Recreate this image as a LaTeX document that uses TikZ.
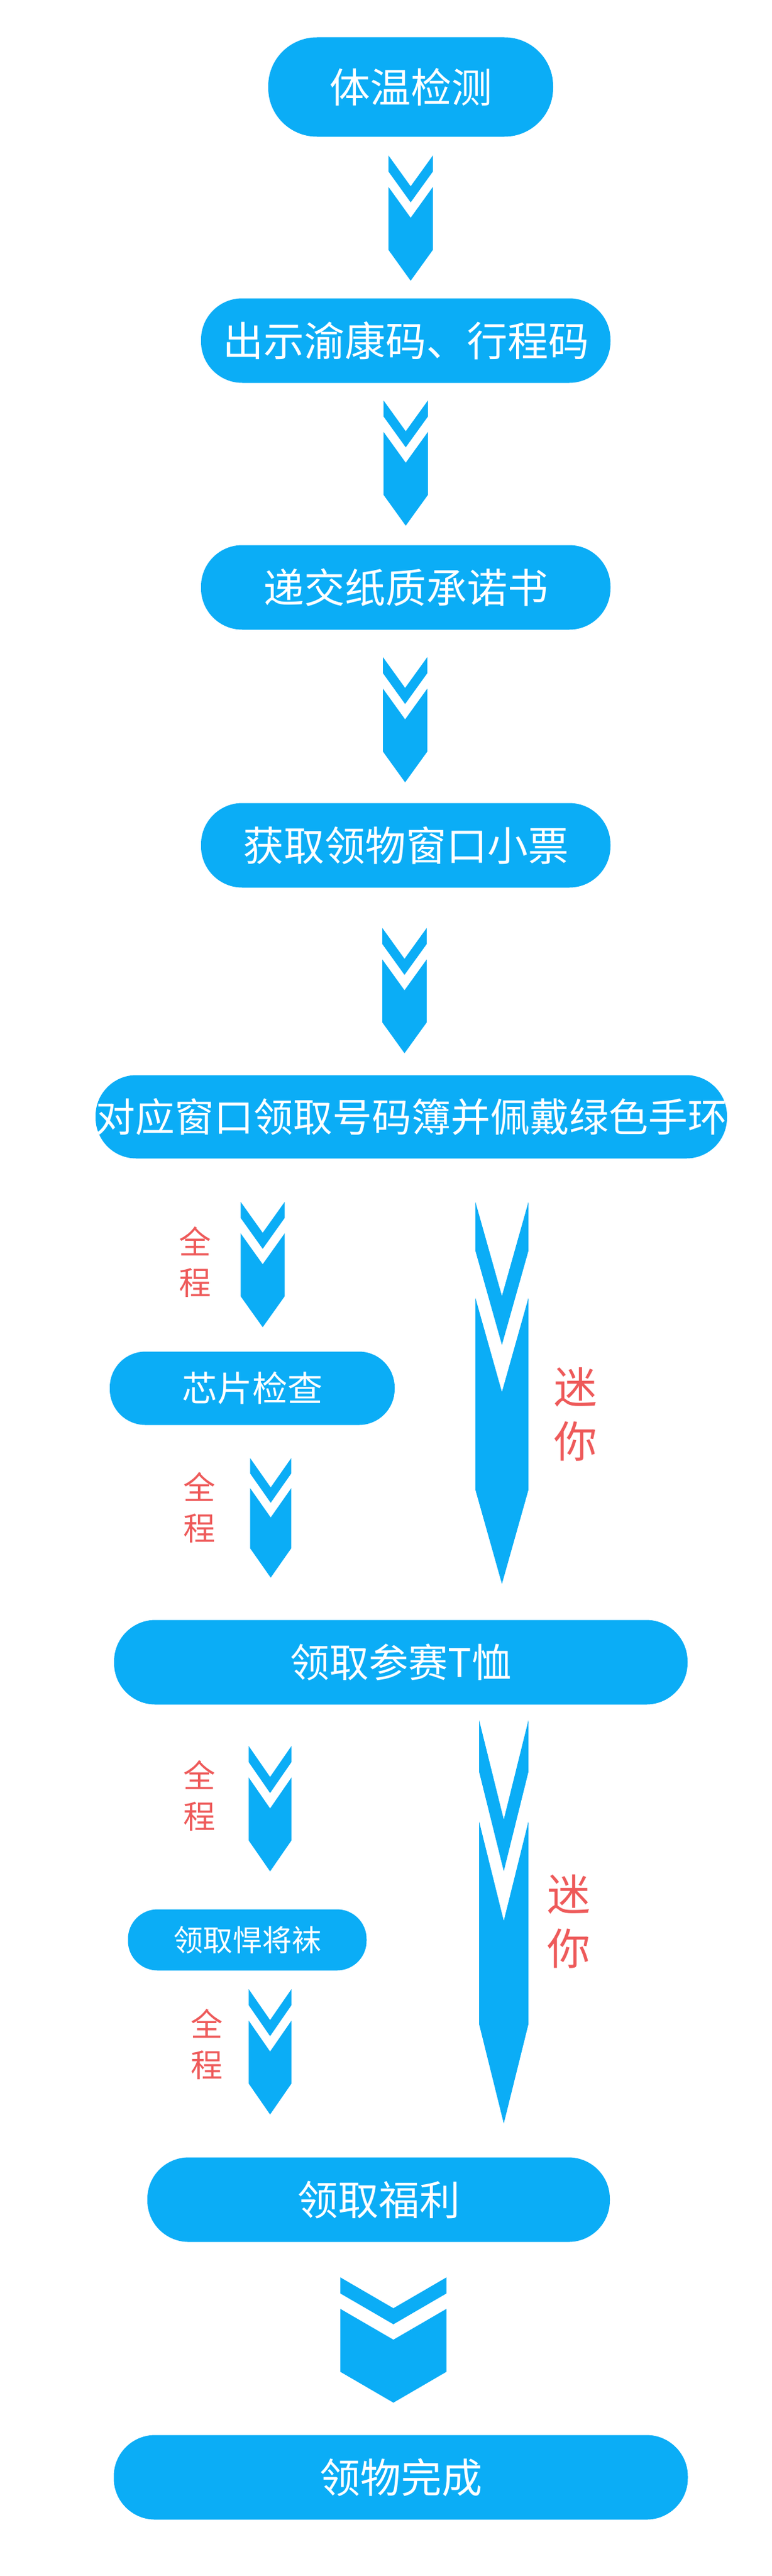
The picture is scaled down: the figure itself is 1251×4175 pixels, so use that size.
\documentclass[tikz,border=0pt]{standalone}
\usepackage{fontspec}
\setmainfont{Noto Sans CJK SC}
\definecolor{skyb}{HTML}{0BADF6}
\definecolor{lblred}{HTML}{EE5A5A}
\newcommand{\fsz}[2]{\fontsize{#1}{#2}\selectfont}
\tikzset{
  pill/.style n args={3}{fill=skyb, text=white, inner sep=0pt,
    minimum width=#1pt, minimum height=#2pt, rounded corners=#3pt},
  lblsmall/.style={text=lblred, align=center, inner sep=0pt, font=\fsz{52}{66}},
  lblbig/.style={text=lblred, align=center, inner sep=0pt, font=\fsz{70}{88}},
  chev/.pic={
    \fill[skyb] (-36,0) -- (0,50) -- (36,0) -- (36,26) -- (0,76) -- (-36,26) -- cycle;
    \fill[skyb] (-36,51) -- (0,101) -- (36,51) -- (36,153) -- (0,203) -- (-36,153) -- cycle;
  }
}
\begin{document}
\begin{tikzpicture}[x=1pt,y=-1pt]
\fill[white] (0,0) rectangle (1251,4175);
\useasboundingbox (0,0) rectangle (1251,4175);

% main pills
\node[pill={462}{161}{79}, font=\fsz{66}{70}] (p1) at (666,141) {体温检测};
\node[pill={664}{137}{67}, font=\fsz{66}{70}] (p2) at (658,552) {出示渝康码、行程码};
\node[pill={664}{137}{67}, font=\fsz{66}{70}] (p3) at (658,952) {递交纸质承诺书};
\node[pill={664}{137}{67}, font=\fsz{66}{70}] (p4) at (658,1370) {获取领物窗口小票};
\node[pill={1018}{135}{66}, font=\fsz{64}{70}] (p5) at (667,1810) {对应窗口领取号码簿并佩戴绿色手环};
\node[pill={462}{119}{58}, font=\fsz{57}{62}] (p6) at (409,2250) {芯片检查};
\node[pill={930}{137}{67}, font=\fsz{64}{70}] (p7) at (650,2694) {领取参赛T恤};
\node[pill={387}{99}{48}, font=\fsz{48}{54}] (p8) at (401,3144) {领取悍将袜};
\node[pill={750}{137}{67}, font=\fsz{66}{70}] (p9) at (614,3565) {领取福利};
\node[pill={931}{137}{67}, font=\fsz{66}{70}] (p10) at (650,4015) {领物完成};

% chevron arrows
\pic (a1) at (666,252) {chev};
\pic (a2) at (658,649) {chev};
\pic (a3) at (657,1065) {chev};
\pic (a4) at (656,1504) {chev};
\pic[xscale=0.99] (l1) at (426,1948) {chev};
\pic[xscale=0.93,yscale=0.955] (l2) at (439,2363) {chev};
\pic[xscale=0.96] (l3) at (438,2830) {chev};
\pic[xscale=0.96] (l4) at (438,3224) {chev};
\pic[xscale=1.194,yscale=3.05] (r1) at (814,1948) {chev};
\pic[xscale=1.11,yscale=3.22] (r2) at (817,2788) {chev};
\pic[xscale=2.39] (b1) at (638,3691) {chev};

% labels
\node[lblsmall] (q1) at (316,2045) {全\\程};
\node[lblsmall] (q2) at (323,2443) {全\\程};
\node[lblsmall] (q3) at (323,2910) {全\\程};
\node[lblsmall] (q4) at (335,3313) {全\\程};
\node[lblbig] (m1) at (933,2292) {迷\\你};
\node[lblbig] (m2) at (922,3114) {迷\\你};
\end{tikzpicture}
\end{document}
